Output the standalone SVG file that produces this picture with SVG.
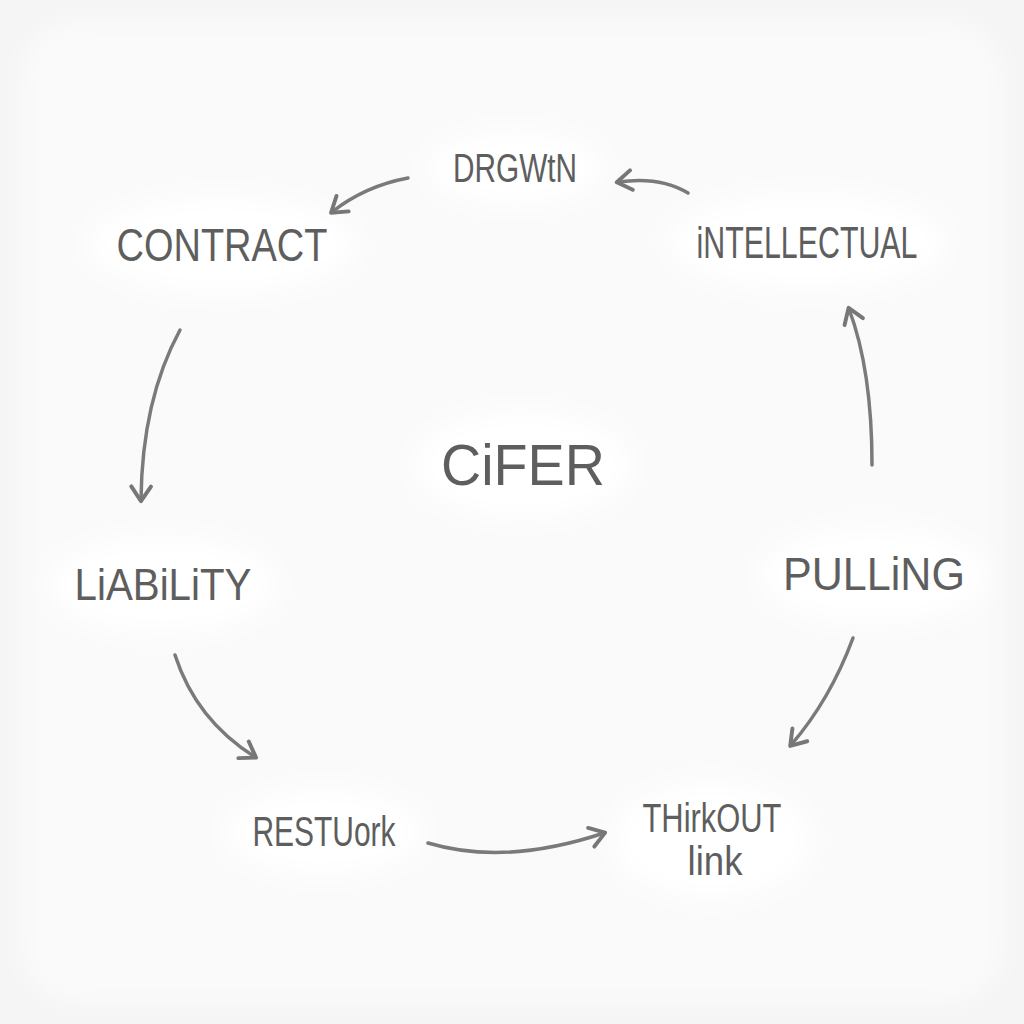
<svg xmlns="http://www.w3.org/2000/svg" width="1024" height="1024" viewBox="0 0 1024 1024">
  <defs>
    <filter id="soft" x="-50%" y="-50%" width="200%" height="200%">
      <feGaussianBlur stdDeviation="12"/>
    </filter>
    <marker id="arr" viewBox="0 0 20 20" refX="14" refY="10" markerWidth="7" markerHeight="7" markerUnits="strokeWidth" orient="auto">
      <path d="M3,2 L15,10 L3,18" fill="none" stroke="#777" stroke-width="3.2" stroke-linecap="round" stroke-linejoin="round"/>
    </marker>
    <style>
      .lbl { font-family: "Liberation Sans", "DejaVu Sans", sans-serif; fill: #5e5e5e; text-anchor: middle; }
      .edge { fill: none; stroke: #7a7a7a; stroke-width: 3.5; stroke-linecap: round; marker-end: url(#arr); }
      .blob { fill: #ffffff; filter: url(#soft); }
    </style>
  </defs>
  <rect width="1024" height="1024" fill="#f5f5f5"/>
  <rect x="20" y="20" width="984" height="984" rx="60" fill="#fafafa" filter="url(#soft)"/>

  <g id="blobs">
    <ellipse class="blob" cx="515" cy="168" rx="90" ry="38"/>
    <ellipse class="blob" cx="222" cy="245" rx="135" ry="50"/>
    <ellipse class="blob" cx="807" cy="242" rx="140" ry="50"/>
    <ellipse class="blob" cx="523" cy="465" rx="110" ry="55"/>
    <ellipse class="blob" cx="163" cy="585" rx="115" ry="50"/>
    <ellipse class="blob" cx="874" cy="575" rx="115" ry="50"/>
    <ellipse class="blob" cx="324" cy="832" rx="100" ry="45"/>
    <ellipse class="blob" cx="712" cy="840" rx="100" ry="60"/>
  </g>

  <g id="connectors">
    <path class="edge" d="M408,178 Q365,186 332,212"/>
    <path class="edge" d="M688,193 Q660,176 618,182"/>
    <path class="edge" d="M180,330 Q142,400 141,500"/>
    <path class="edge" d="M872,465 Q872,370 849,309"/>
    <path class="edge" d="M175,655 Q196,720 255,757"/>
    <path class="edge" d="M853,638 Q830,700 791,745"/>
    <path class="edge" d="M428,843 Q505,866 604,833"/>
  </g>

  <g id="node-drgwtn"><text class="lbl" x="515" y="182" font-size="40" textLength="124" lengthAdjust="spacingAndGlyphs">DRGWtN</text></g>
  <g id="node-contract"><text class="lbl" x="222" y="261" font-size="46" textLength="211" lengthAdjust="spacingAndGlyphs">CONTRACT</text></g>
  <g id="node-intellectual"><text class="lbl" x="807" y="258" font-size="44" textLength="221" lengthAdjust="spacingAndGlyphs">iNTELLECTUAL</text></g>
  <g id="node-cifer"><text class="lbl" x="523" y="485" font-size="58" textLength="164" lengthAdjust="spacingAndGlyphs">CiFER</text></g>
  <g id="node-liability"><text class="lbl" x="163" y="600" font-size="44" textLength="177" lengthAdjust="spacingAndGlyphs">LiABiLiTY</text></g>
  <g id="node-pulling"><text class="lbl" x="874" y="590" font-size="46" textLength="182" lengthAdjust="spacingAndGlyphs">PULLiNG</text></g>
  <g id="node-restuork"><text class="lbl" x="324" y="846" font-size="42" textLength="143" lengthAdjust="spacingAndGlyphs">RESTUork</text></g>
  <g id="node-thirkout">
    <text class="lbl" x="712" y="832" font-size="40" textLength="139" lengthAdjust="spacingAndGlyphs">THirkOUT</text>
    <text class="lbl" x="715" y="875" font-size="40" textLength="55" lengthAdjust="spacingAndGlyphs">link</text>
  </g>
</svg>
